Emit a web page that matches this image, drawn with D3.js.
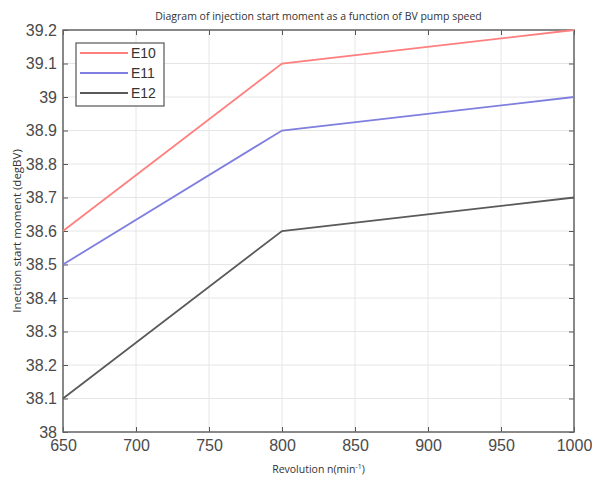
<!DOCTYPE html>
<html><head><meta charset="utf-8">
<script src="https://cdn.jsdelivr.net/npm/d3@7"></script>
<style>body{margin:0;background:#fff;}svg{display:block;}</style>
</head><body>
<script>
const revolutions = [650, 800, 1000];
const seriesNames = ["E10", "E11", "E12"];
const e10 = [38.6, 39.1, 39.2];
const e11 = [38.5, 38.9, 39.0];
const e12 = [38.1, 38.6, 38.7];
const seriesColors = ["#ff7f7f", "#7f7fe0", "#5a5a5a"];
const xTicks = [650, 700, 750, 800, 850, 900, 950, 1000];
const yTicks = [38, 38.1, 38.2, 38.3, 38.4, 38.5, 38.6, 38.7, 38.8, 38.9, 39, 39.1, 39.2];

const W = 592, H = 482;
const m = {left: 63, right: 18, top: 30, bottom: 50};
const svg = d3.select("body").append("svg").attr("width", W).attr("height", H);
const x = d3.scaleLinear().domain([650, 1000]).range([m.left, W - m.right]);
const y = d3.scaleLinear().domain([38, 39.2]).range([H - m.bottom, m.top]);

// grid
const g = svg.append("g");
g.selectAll(".gx").data(xTicks).enter().append("line")
  .attr("x1", d => x(d)).attr("x2", d => x(d)).attr("y1", y(38)).attr("y2", y(39.2))
  .attr("stroke", "#e6e6e6").attr("stroke-width", 1);
g.selectAll(".gy").data(yTicks).enter().append("line")
  .attr("y1", d => y(d)).attr("y2", d => y(d)).attr("x1", x(650)).attr("x2", x(1000))
  .attr("stroke", "#e6e6e6").attr("stroke-width", 1);

const fmt = d => d3.format("")(+d.toFixed(1));
const axStyle = sel => {
  sel.select(".domain").remove();
  sel.selectAll("line").attr("stroke", "#555");
  sel.selectAll("text").attr("fill", "#4a4a4a").style("font-family", "Liberation Sans, Arial, sans-serif").style("font-size", "16px");
};
svg.append("g").attr("transform", `translate(0,${y(38)})`)
  .call(d3.axisBottom(x).tickValues(xTicks).tickSizeInner(-5).tickSizeOuter(0).tickPadding(8).tickFormat(d3.format("")))
  .call(axStyle);
svg.append("g").attr("transform", `translate(0,${y(39.2)})`)
  .call(d3.axisTop(x).tickValues(xTicks).tickSizeInner(-5).tickSizeOuter(0).tickFormat(""))
  .call(axStyle);
svg.append("g").attr("transform", `translate(${x(650)},0)`)
  .call(d3.axisLeft(y).tickValues(yTicks).tickSizeInner(-5).tickSizeOuter(0).tickPadding(6).tickFormat(fmt))
  .call(axStyle);
svg.append("g").attr("transform", `translate(${x(1000)},0)`)
  .call(d3.axisRight(y).tickValues(yTicks).tickSizeInner(-5).tickSizeOuter(0).tickFormat(""))
  .call(axStyle);

// frame
svg.append("rect").attr("x", x(650)).attr("y", y(39.2)).attr("width", x(1000) - x(650)).attr("height", y(38) - y(39.2))
  .attr("fill", "none").attr("stroke", "#666").attr("stroke-width", 1.5);

// lines
const data = [e10, e11, e12];
const line = d3.line().x((d, i) => x(revolutions[i])).y(d => y(d));
data.forEach((vals, k) => {
  svg.append("path").datum(vals).attr("d", line).attr("fill", "none")
    .attr("stroke", seriesColors[k]).attr("stroke-width", 1.8);
});

// legend
const lg = svg.append("g");
lg.append("rect").attr("x", 76).attr("y", 43).attr("width", 88).attr("height", 63)
  .attr("fill", "#fff").attr("stroke", "#555").attr("stroke-width", 1.2);
seriesNames.forEach((n, k) => {
  const yy = 53 + k * 20;
  lg.append("line").attr("x1", 80).attr("x2", 128).attr("y1", yy).attr("y2", yy)
    .attr("stroke", seriesColors[k]).attr("stroke-width", 1.8);
  lg.append("text").attr("x", 131).attr("y", yy + 5).text(n)
    .attr("fill", "#333").style("font-family", "Liberation Sans, Arial, sans-serif").style("font-size", "14px");
});

// title and labels
svg.append("text").attr("x", (x(650) + x(1000)) / 2).attr("y", 20).attr("text-anchor", "middle")
  .text("Diagram of injection start moment as a function of BV pump speed")
  .attr("fill", "#333").style("font-family", "Open Sans, sans-serif").style("font-size", "10.5px");
svg.append("text").attr("x", (x(650) + x(1000)) / 2).attr("y", 473).attr("text-anchor", "middle")
  .attr("fill", "#333").style("font-family", "Open Sans, sans-serif").style("font-size", "10.5px")
  .html('Revolution n(min<tspan dy="-4" font-size="7">-1</tspan><tspan dy="4">)</tspan>');
svg.append("text").attr("transform", `translate(21,${(y(38) + y(39.2)) / 2}) rotate(-90)`).attr("text-anchor", "middle")
  .text("Inection start moment (degBV)")
  .attr("fill", "#333").style("font-family", "Open Sans, sans-serif").style("font-size", "11.5px");
</script>
</body></html>
